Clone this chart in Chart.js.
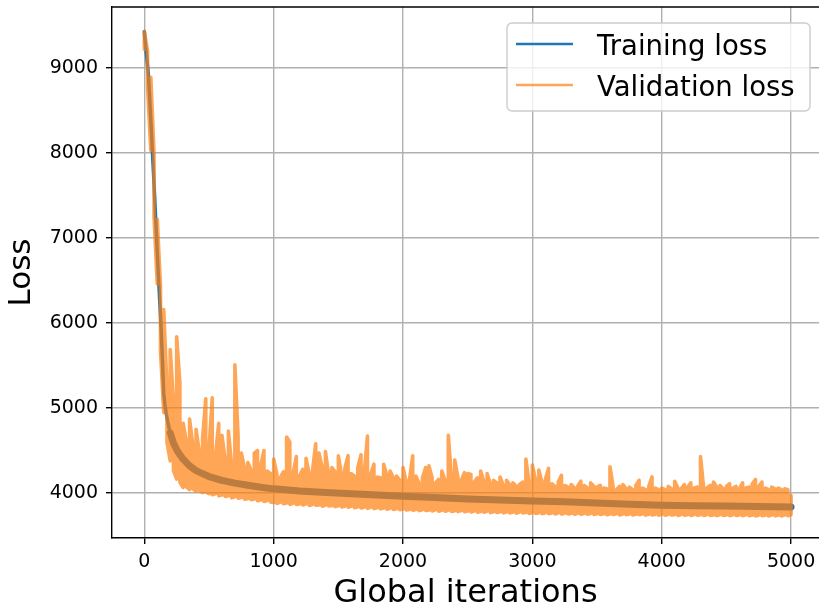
<!DOCTYPE html>
<html>
<head>
<meta charset="utf-8">
<script src="https://cdn.jsdelivr.net/npm/chart.js@4.4.0/dist/chart.umd.min.js"></script>
<style>
html,body{margin:0;padding:0;background:#fff;overflow:hidden;width:819px;height:606px}
#wrap{width:819px;height:606px}
</style>
</head>
<body>
<div id="wrap"><canvas id="c" width="819" height="606"></canvas></div>
<script>
// ---- data ----
const seriesNames = ['Training loss', 'Validation loss'];
const xTicks = [0, 1000, 2000, 3000, 4000, 5000];
const yTicks = [4000, 5000, 6000, 7000, 8000, 9000];

const trainIters = [0, 10, 20, 30, 40, 50, 60, 70, 80, 90, 100, 110, 120, 130, 140, 150, 160, 170, 185, 200, 225, 250, 275, 300, 350, 400, 450, 500, 600, 700, 800, 900, 1000, 1200, 1400, 1600, 1800, 2000, 2250, 2500, 2750, 3000, 3250, 3500, 3750, 4000, 4250, 4500, 4750, 5000];
const trainLoss = [9430, 9250, 9100, 8950, 8690, 8390, 8090, 7790, 7480, 7150, 6830, 6520, 6230, 5930, 5560, 5170, 5030, 4930, 4810, 4710, 4590, 4510, 4450, 4400, 4320, 4265, 4230, 4195, 4150, 4118, 4092, 4068, 4050, 4025, 4008, 3992, 3977, 3962, 3948, 3932, 3920, 3908, 3898, 3885, 3870, 3858, 3852, 3848, 3843, 3838];

// validation loss: lowest / highest value seen in each 25-iteration bin
const VAL_STEP = 25;
const valLow = [
  9220, 8770, 8030, 7250, 6460, 5670, 4950, 4600, 4380, 4265, 4165, 4125, 4065, 4072, 4040, 4051, 4022, 4031, 4006, 4015,
  3993, 3981, 3992, 3968, 3977, 3960, 3969, 3944, 3957, 3941, 3949, 3929, 3938, 3922, 3931, 3911, 3920, 3901, 3913, 3895,
  3890, 3879, 3893, 3875, 3884, 3868, 3881, 3866, 3872, 3860, 3873, 3855, 3866, 3857, 3861, 3846, 3860, 3849, 3852, 3841,
  3852, 3838, 3845, 3833, 3844, 3829, 3839, 3826, 3833, 3821, 3834, 3818, 3827, 3815, 3825, 3811, 3822, 3808, 3816, 3805,
  3813, 3801, 3808, 3798, 3807, 3794, 3805, 3796, 3800, 3790, 3803, 3788, 3797, 3786, 3799, 3785, 3793, 3782, 3794, 3781,
  3789, 3779, 3790, 3776, 3785, 3775, 3786, 3771, 3781, 3772, 3782, 3768, 3779, 3767, 3777, 3764, 3776, 3766, 3771, 3761,
  3772, 3760, 3770, 3758, 3768, 3759, 3765, 3755, 3766, 3753, 3764, 3754, 3761, 3751, 3763, 3750, 3759, 3752, 3760, 3748,
  3757, 3749, 3758, 3746, 3755, 3747, 3757, 3744, 3753, 3746, 3754, 3743, 3752, 3745, 3753, 3741, 3751, 3744, 3750, 3740,
  3751, 3741, 3749, 3742, 3750, 3738, 3748, 3740, 3746, 3737, 3749, 3739, 3745, 3736, 3747, 3738, 3744, 3735, 3746, 3737,
  3744, 3734, 3745, 3737, 3742, 3733, 3744, 3735, 3741, 3732, 3743, 3735, 3740, 3731, 3742, 3733, 3739, 3730, 3741, 3734, 3748
];
const valHigh = [
  9430, 9200, 8890, 8000, 7220, 6430, 6160, 5240, 5690, 5080, 5840, 5290, 4820, 4610, 4870, 4560, 4750, 4480, 4640, 5110,
  4520, 5120, 4440, 4820, 4680, 4390, 4730, 4330, 5510, 4670, 4470, 4290, 4360, 4270, 4470, 4500, 4330, 4500, 4260, 4230,
  4400, 4220, 4180, 4250, 4660, 4600, 4230, 4430, 4200, 4280, 4410, 4220, 4260, 4580, 4470, 4300, 4490, 4220, 4300, 4250,
  4440, 4210, 4290, 4440, 4230, 4200, 4300, 4450, 4240, 4670, 4220, 4340, 4190, 4180, 4340, 4210, 4260, 4180, 4200, 4150,
  4300, 4130, 4160, 4440, 4200, 4110, 4180, 4300, 4320, 4180, 4120, 4160, 4260, 4150, 4680, 4170, 4390, 4180, 4150, 4240,
  4230, 4220, 4130, 4180, 4260, 4140, 4230, 4110, 4150, 4120, 4190, 4090, 4150, 4100, 4120, 4080, 4100, 4130, 4400, 4110,
  4330, 4150, 4270, 4120, 4160, 4290, 4110, 4080, 4130, 4210, 4090, 4070, 4100, 4060, 4080, 4140, 4090, 4060, 4120, 4080,
  4070, 4090, 4060, 4050, 4310, 4070, 4040, 4080, 4100, 4050, 4070, 4040, 4090, 4150, 4060, 4040, 4080, 4190, 4060, 4040,
  4060, 4040, 4080, 4050, 4140, 4060, 4050, 4100, 4070, 4120, 4060, 4070, 4430, 4050, 4060, 4090, 4130, 4070, 4090, 4050,
  4080, 4110, 4060, 4080, 4050, 4120, 4060, 4070, 4110, 4160, 4080, 4130, 4060, 4040, 4070, 4050, 4060, 4040, 4050, 4040, 3970
];

// ---- build library data ----
const BLUE = '#1f77b4';
const ORANGE = 'rgba(255,127,14,0.7)';
const FONT = '"DejaVu Sans", sans-serif';

const trainPts = trainIters.map((x, i) => ({x: x, y: trainLoss[i]}));
const valPts = [];
valLow.forEach((lo, i) => {
  const x = i * VAL_STEP, hi = valHigh[i];
  if (i % 2 === 0) { valPts.push({x: x, y: lo}, {x: x, y: hi}); }
  else { valPts.push({x: x, y: hi}, {x: x, y: lo}); }
});

Chart.defaults.font.family = FONT;

const framePlugin = {
  id: 'frame',
  afterDatasetsDraw(chart) {
    const {ctx, chartArea: a} = chart;
    ctx.save();
    ctx.strokeStyle = '#000';
    ctx.lineWidth = 1.4;
    ctx.beginPath();
    ctx.moveTo(a.left, a.top); ctx.lineTo(a.right, a.top);
    ctx.stroke();
    ctx.restore();
  }
};

const legendPlugin = {
  id: 'mplLegend',
  afterDraw(chart) {
    const ctx = chart.ctx;
    const x0 = 507, y0 = 23, w = 303, h = 88, r = 5;
    ctx.save();
    ctx.beginPath();
    ctx.moveTo(x0 + r, y0);
    ctx.lineTo(x0 + w - r, y0); ctx.arcTo(x0 + w, y0, x0 + w, y0 + r, r);
    ctx.lineTo(x0 + w, y0 + h - r); ctx.arcTo(x0 + w, y0 + h, x0 + w - r, y0 + h, r);
    ctx.lineTo(x0 + r, y0 + h); ctx.arcTo(x0, y0 + h, x0, y0 + h - r, r);
    ctx.lineTo(x0, y0 + r); ctx.arcTo(x0, y0, x0 + r, y0, r);
    ctx.closePath();
    ctx.fillStyle = 'rgba(255,255,255,0.8)';
    ctx.fill();
    ctx.strokeStyle = '#cccccc';
    ctx.lineWidth = 1.4;
    ctx.stroke();
    const rows = [{c: BLUE, ly: 44, ty: 55}, {c: ORANGE, ly: 85, ty: 96}];
    ctx.font = '27.5px ' + FONT;
    ctx.textBaseline = 'alphabetic';
    ctx.textAlign = 'left';
    rows.forEach((row, i) => {
      ctx.strokeStyle = row.c;
      ctx.lineWidth = 2.7;
      ctx.beginPath(); ctx.moveTo(516, row.ly); ctx.lineTo(573, row.ly); ctx.stroke();
      ctx.fillStyle = '#000';
      ctx.fillText(seriesNames[i], 597, row.ty);
    });
    ctx.restore();
  }
};

new Chart(document.getElementById('c'), {
  type: 'line',
  data: {
    datasets: [
      {label: seriesNames[1], data: valPts, borderColor: ORANGE, borderWidth: 3.6,
       pointRadius: 0, tension: 0, borderJoinStyle: 'round', borderCapStyle: 'round', fill: false},
      {label: seriesNames[0], data: trainPts, borderColor: BLUE, borderWidth: 7,
       segment: {borderWidth: c => (c.p0.parsed.x < 200 ? 3.5 : 7)},
       pointRadius: 0, tension: 0, borderJoinStyle: 'round', borderCapStyle: 'round', fill: false}
    ]
  },
  options: {
    responsive: false,
    animation: false,
    devicePixelRatio: 1,
    parsing: false,
    layout: {padding: {left: 0, right: 0, top: 7, bottom: 0}},
    plugins: {legend: {display: false}, tooltip: {enabled: false}},
    events: [],
    scales: {
      x: {
        type: 'linear', min: -250, max: 5216,
        afterBuildTicks: s => { s.ticks = xTicks.map(v => ({value: v})); },
        afterFit: s => { s.height = 68; s.paddingLeft = 0; s.paddingRight = 0; s.paddingTop = 0; s.paddingBottom = 0; },
        ticks: {color: '#000', font: {size: 19}, padding: 7, maxRotation: 0, autoSkip: false, callback: v => String(v)},
        grid: {color: '#b0b0b0', lineWidth: 1.4, tickColor: '#000', tickLength: 6, tickWidth: 1.4, drawTicks: true},
        border: {color: '#000', width: 1.4},
        title: {display: true, text: 'Global iterations', color: '#000', font: {size: 32, lineHeight: 0.5}, padding: {top: 0, bottom: 4}}
      },
      y: {
        type: 'linear', min: 3472, max: 9718,
        afterBuildTicks: s => { s.ticks = yTicks.map(v => ({value: v})); },
        afterFit: s => { s.width = 112; s.paddingLeft = 0; s.paddingRight = 0; s.paddingTop = 0; s.paddingBottom = 0; },
        ticks: {color: '#000', font: {size: 19}, padding: 8, autoSkip: false, callback: v => String(v)},
        grid: {color: '#b0b0b0', lineWidth: 1.4, tickColor: '#000', tickLength: 6, tickWidth: 1.4, drawTicks: true},
        border: {color: '#000', width: 1.4},
        title: {display: true, text: 'Loss', color: '#000', font: {size: 31, lineHeight: 0.5}, padding: {top: 14.5, bottom: 0}}
      }
    }
  },
  plugins: [framePlugin, legendPlugin]
});
</script>
</body>
</html>
